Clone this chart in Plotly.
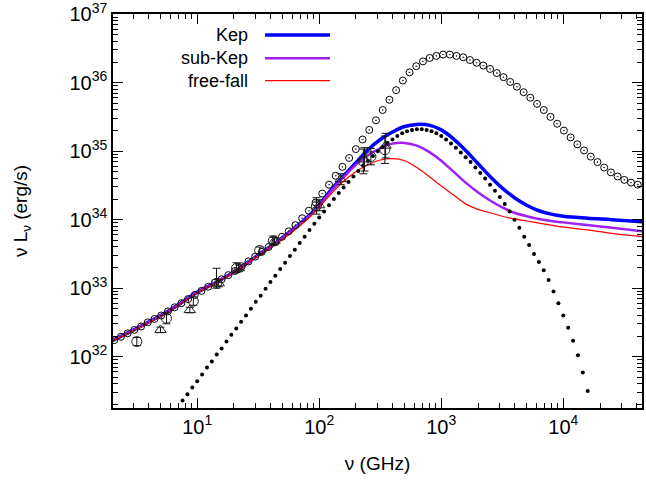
import numpy as np
import plotly.graph_objects as go

# ---------------- data (log10 of nu [GHz], log10 of nu L_nu [erg/s]) ----------------
kep_lognu = [0.30, 0.48, 0.75, 1.00, 1.16, 1.33, 1.49, 1.65, 1.80, 1.90, 2.00, 2.10, 2.20, 2.30,
             2.40, 2.50, 2.60, 2.70, 2.80, 2.90, 3.00, 3.10, 3.20, 3.30, 3.40, 3.50, 3.60, 3.70,
             3.80, 3.90, 4.00, 4.20, 4.40, 4.65]
kep_logL = [32.23, 32.39, 32.65, 32.94, 33.09, 33.27, 33.47, 33.67, 33.88, 34.03, 34.22, 34.44,
            34.64, 34.83, 35.02, 35.17, 35.28, 35.36, 35.39, 35.38, 35.31, 35.18, 35.01, 34.82,
            34.63, 34.46, 34.32, 34.21, 34.13, 34.08, 34.05, 34.02, 34.00, 33.97]

sub_lognu = [0.30, 0.48, 0.75, 1.00, 1.16, 1.33, 1.49, 1.65, 1.80, 1.90, 2.00, 2.10, 2.20, 2.30,
             2.40, 2.50, 2.60, 2.70, 2.80, 2.90, 3.00, 3.10, 3.20, 3.30, 3.40, 3.50, 3.60, 3.70,
             3.80, 3.90, 4.00, 4.20, 4.40, 4.65]
sub_logL = [32.23, 32.39, 32.65, 32.94, 33.09, 33.27, 33.47, 33.67, 33.88, 34.02, 34.21, 34.42,
            34.62, 34.80, 34.94, 35.04, 35.11, 35.12, 35.08, 34.99, 34.86, 34.70, 34.54, 34.40,
            34.28, 34.18, 34.10, 34.05, 34.01, 33.98, 33.96, 33.92, 33.88, 33.83]

ff_lognu = [0.30, 0.48, 0.75, 1.00, 1.16, 1.33, 1.49, 1.65, 1.80, 1.90, 2.00, 2.10, 2.20, 2.30,
            2.40, 2.50, 2.60, 2.70, 2.80, 2.90, 3.00, 3.10, 3.20, 3.30, 3.40, 3.50, 3.60, 3.70,
            3.80, 3.90, 4.00, 4.20, 4.40, 4.65]
ff_logL = [32.22, 32.38, 32.64, 32.93, 33.08, 33.26, 33.46, 33.65, 33.85, 34.00, 34.18, 34.38,
           34.56, 34.70, 34.80, 34.87, 34.89, 34.86, 34.76, 34.63, 34.49, 34.36, 34.23, 34.15,
           34.10, 34.05, 34.01, 33.98, 33.95, 33.92, 33.89, 33.85, 33.80, 33.75]

# open-circle model curve
circ_lognu = [0.320, 0.375, 0.430, 0.485, 0.540, 0.595, 0.650, 0.705, 0.760, 0.815, 0.870, 0.925,
              0.980, 1.035, 1.090, 1.145, 1.200, 1.255, 1.310, 1.365, 1.420, 1.475, 1.530, 1.585,
              1.640, 1.695, 1.750, 1.805, 1.860, 1.915, 1.970, 2.025, 2.080, 2.135, 2.190, 2.245,
              2.300, 2.355, 2.410, 2.465, 2.520, 2.575, 2.630, 2.685, 2.740, 2.795, 2.850, 2.905,
              2.960, 3.015, 3.070, 3.125, 3.180, 3.235, 3.290, 3.345, 3.400, 3.455, 3.510, 3.565,
              3.620, 3.675, 3.730, 3.785, 3.840, 3.895, 3.950, 4.005, 4.060, 4.115, 4.170, 4.225,
              4.280, 4.335, 4.390, 4.445, 4.500, 4.555, 4.610]
circ_logL = [32.24, 32.29, 32.34, 32.39, 32.44, 32.50, 32.55, 32.60, 32.66, 32.72, 32.78, 32.84,
             32.90, 32.96, 33.02, 33.08, 33.13, 33.19, 33.25, 33.32, 33.39, 33.46, 33.53, 33.60,
             33.67, 33.75, 33.83, 33.92, 34.02, 34.13, 34.25, 34.38, 34.51, 34.64, 34.77, 34.90,
             35.03, 35.17, 35.31, 35.45, 35.60, 35.75, 35.89, 36.03, 36.15, 36.24, 36.31, 36.36,
             36.39, 36.41, 36.41, 36.39, 36.37, 36.33, 36.29, 36.25, 36.20, 36.14, 36.08, 36.01,
             35.94, 35.86, 35.78, 35.69, 35.60, 35.50, 35.40, 35.30, 35.20, 35.10, 35.01, 34.92,
             34.84, 34.76, 34.69, 34.63, 34.58, 34.54, 34.51]

# dotted (filled small dots) model curve
dot_lognu = [0.88, 0.92, 0.96, 1.00, 1.04, 1.08, 1.12, 1.16, 1.20, 1.24, 1.28, 1.32, 1.36, 1.40,
             1.44, 1.48, 1.52, 1.56, 1.60, 1.64, 1.68, 1.72, 1.76, 1.80, 1.84, 1.88, 1.92, 1.96,
             2.00, 2.04, 2.08, 2.12, 2.16, 2.20, 2.24, 2.28, 2.32, 2.36, 2.40, 2.44, 2.48, 2.52,
             2.56, 2.60, 2.64, 2.68, 2.72, 2.76, 2.80, 2.84, 2.88, 2.92, 2.96, 3.00, 3.04, 3.08,
             3.12, 3.16, 3.20, 3.24, 3.28, 3.32, 3.36, 3.40, 3.44, 3.48, 3.52, 3.56, 3.60, 3.64,
             3.68, 3.72, 3.76, 3.80, 3.84, 3.88, 3.92, 3.96, 4.00, 4.04, 4.08, 4.12, 4.16, 4.20]
dot_logL = [31.36, 31.45, 31.55, 31.64, 31.74, 31.84, 31.93, 32.03, 32.12, 32.22, 32.32, 32.41,
            32.51, 32.60, 32.70, 32.80, 32.89, 32.99, 33.09, 33.18, 33.28, 33.37, 33.47, 33.56,
            33.66, 33.75, 33.85, 33.94, 34.03, 34.12, 34.21, 34.30, 34.39, 34.47, 34.55, 34.63,
            34.71, 34.79, 34.86, 34.93, 35.00, 35.06, 35.12, 35.17, 35.22, 35.26, 35.29, 35.31,
            35.32, 35.32, 35.31, 35.29, 35.26, 35.22, 35.17, 35.11, 35.05, 34.98, 34.91, 34.84,
            34.76, 34.68, 34.60, 34.51, 34.42, 34.33, 34.23, 34.12, 34.00, 33.88, 33.75, 33.63,
            33.50, 33.38, 33.26, 33.12, 32.95, 32.78, 32.60, 32.42, 32.23, 32.02, 31.77, 31.50]

# observations: open circles
obsc_nu = [3.2, 5.6, 9.3, 14.4, 21.0, 32.5, 42.0, 95.0, 230.0, 265.0, 345.0]
obsc_logL = [32.22, 32.56, 32.81, 33.07, 33.29, 33.55, 33.69, 34.20, 34.85, 34.92, 35.02]
obsc_err_lo = [0.06, 0.08, 0.06, 0.07, 0.06, 0.05, 0.06, 0.12, 0.18, 0.12, 0.20]
obsc_err_hi = [0.06, 0.08, 0.06, 0.22, 0.08, 0.05, 0.07, 0.12, 0.18, 0.12, 0.20]

# observations: open triangles
obst_nu = [5.0, 8.7, 15.0, 22.0, 43.0, 100.0, 150.0, 235.0, 350.0]
obst_logL = [32.39, 32.68, 33.07, 33.29, 33.69, 34.21, 34.59, 34.88, 35.08]
obst_err_lo = [0.04, 0.04, 0.05, 0.05, 0.05, 0.08, 0.08, 0.17, 0.18]
obst_err_hi = [0.04, 0.04, 0.05, 0.05, 0.05, 0.08, 0.08, 0.17, 0.18]

# ---------------- figure ----------------
def p10(a):
    return np.power(10.0, np.array(a, dtype=float))

fig = go.Figure()

fig.add_trace(go.Scatter(x=p10(kep_lognu), y=p10(kep_logL), mode="lines", name="Kep",
                         line=dict(color="#0000ff", width=3.5, shape="spline")))
fig.add_trace(go.Scatter(x=p10(sub_lognu), y=p10(sub_logL), mode="lines", name="sub-Kep",
                         line=dict(color="#a020f0", width=2.5, shape="spline")))
fig.add_trace(go.Scatter(x=p10(ff_lognu), y=p10(ff_logL), mode="lines", name="free-fall",
                         line=dict(color="#ff0000", width=1.2, shape="spline")))

fig.add_trace(go.Scatter(x=p10(circ_lognu), y=p10(circ_logL), mode="markers", showlegend=False,
                         marker=dict(symbol="circle-open-dot", size=7, color="black",
                                     line=dict(width=1, color="black"))))
fig.add_trace(go.Scatter(x=p10(dot_lognu), y=p10(dot_logL), mode="markers", showlegend=False,
                         marker=dict(symbol="circle", size=4, color="black")))

def obs_trace(nu, logL, lo, hi, symbol):
    y = p10(logL)
    ylo = y - p10(np.array(logL) - np.array(lo))
    yhi = p10(np.array(logL) + np.array(hi)) - y
    return go.Scatter(x=nu, y=y, mode="markers", showlegend=False,
                      marker=dict(symbol=symbol, size=10, color="#222222",
                                  line=dict(width=1, color="#222222")),
                      error_y=dict(type="data", symmetric=False, array=yhi, arrayminus=ylo,
                                   color="#111111", thickness=1, width=4))

fig.add_trace(obs_trace(obsc_nu, obsc_logL, obsc_err_lo, obsc_err_hi, "circle-open"))
fig.add_trace(obs_trace(obst_nu, obst_logL, obst_err_lo, obst_err_hi, "triangle-up-open"))

# legend drawn gnuplot-style (text right-aligned, sample line to the right)
legend_items = [("Kep", "#0000ff", 3.5, 0.9467), ("sub-Kep", "#a020f0", 2.5, 0.888),
                ("free-fall", "#ff0000", 1.2, 0.831)]
for label, col, w, yp in legend_items:
    fig.add_annotation(x=0.259, y=yp, xref="paper", yref="paper", text=label, showarrow=False,
                       xanchor="right", yanchor="middle", font=dict(size=18, color="black"))
    fig.add_shape(type="line", xref="paper", yref="paper", x0=0.2873, x1=0.4102, y0=yp, y1=yp,
                  line=dict(color=col, width=w))

FONT = "Liberation Sans, Arial, Helvetica, sans-serif"

xt = [10, 100, 1000, 10000]
xminor = [m * 10 ** k for k in range(0, 5) for m in range(2, 10) if 2 <= m * 10 ** k <= 45000]
yt = [10.0 ** k for k in range(32, 38)]
yminor = [m * 10.0 ** k for k in range(31, 37) for m in range(2, 10)]

axis_common = dict(type="log", showgrid=False, zeroline=False, showline=True, linecolor="black",
                   linewidth=1.5, mirror="allticks", ticks="inside", ticklen=10, tickwidth=1,
                   tickcolor="black", automargin=False, ticklabeloverflow="allow",
                   tickfont=dict(size=20, color="black", family=FONT))

fig.update_xaxes(**axis_common, range=[0.31, 4.645], tickmode="array", tickvals=xt,
                 ticktext=["10<sup>%d</sup>" % k for k in range(1, 5)],
                 minor=dict(tickmode="array", tickvals=xminor, ticks="inside", ticklen=5,
                            tickcolor="black", tickwidth=1, showgrid=False),
                 title=dict(text="ν (GHz)", font=dict(size=19, color="black", family=FONT),
                            standoff=20))
fig.update_yaxes(**axis_common, range=[31.25, 37.002], tickmode="array", tickvals=yt,
                 ticktext=["10<sup>%d</sup>" % k for k in range(32, 38)],
                 minor=dict(tickmode="array", tickvals=yminor, ticks="inside", ticklen=5,
                            tickcolor="black", tickwidth=1, showgrid=False),
                 title=dict(text="ν L<sub>ν</sub> (erg/s)",
                            font=dict(size=19, color="black", family=FONT), standoff=37))

fig.update_layout(width=646, height=483, margin=dict(l=113, r=4, t=14, b=75),
                  paper_bgcolor="white", plot_bgcolor="white", showlegend=False,
                  font=dict(family=FONT, color="black"))

fig.write_html("out.html", config={"displayModeBar": False},
               post_script="document.body.style.margin='0px';")
